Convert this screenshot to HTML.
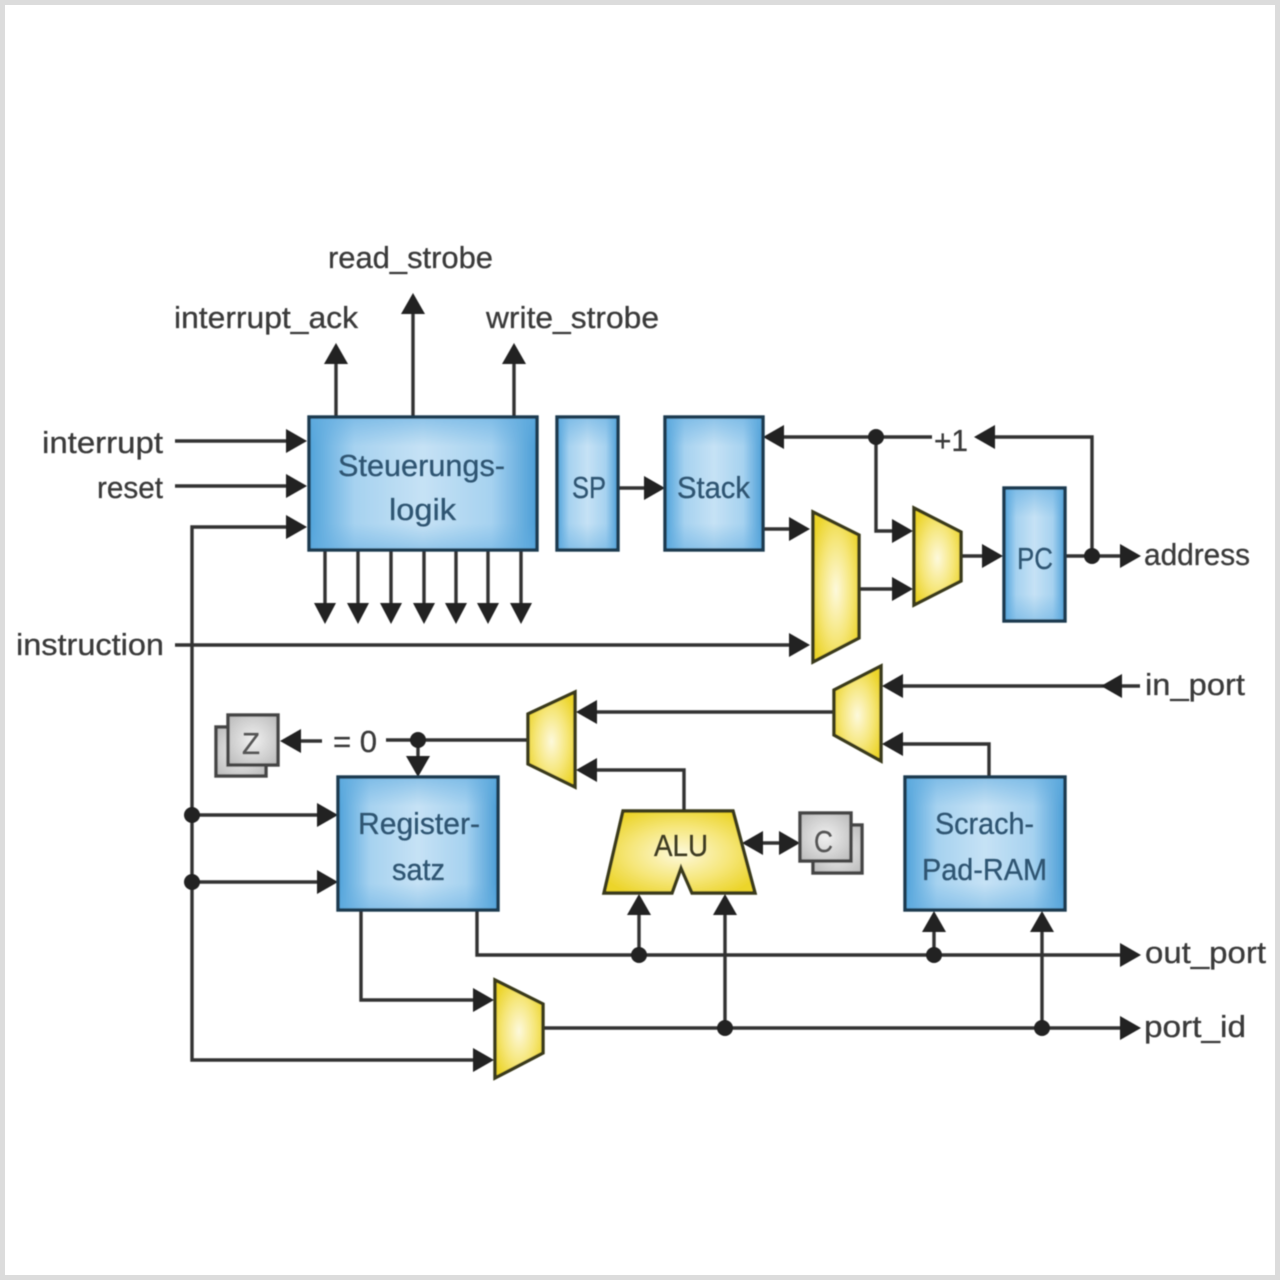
<!DOCTYPE html>
<html>
<head>
<meta charset="utf-8">
<style>
html,body{margin:0;padding:0;background:#fff;width:1280px;height:1280px;overflow:hidden}
svg{display:block}
text{font-family:"Liberation Sans",sans-serif;font-size:31px;fill:#3a3a3a;stroke:#3a3a3a;stroke-width:.3}
.b{fill:#2f5572;stroke:#2f5572}
.y{fill:#3c3a20;stroke:#3c3a20}
</style>
</head>
<body>
<svg width="1280" height="1280" viewBox="0 0 1280 1280" xmlns="http://www.w3.org/2000/svg">
<defs>
<linearGradient id="blueH" x1="0" y1="0" x2="1" y2="0">
<stop offset="0" stop-color="#4fa2da"/><stop offset="0.2" stop-color="#a6d2f0"/><stop offset="0.5" stop-color="#c6e2f5"/><stop offset="0.8" stop-color="#a6d2f0"/><stop offset="1" stop-color="#4a9dd6"/>
</linearGradient>
<linearGradient id="blueV" x1="0" y1="0" x2="0" y2="1">
<stop offset="0" stop-color="#63ade0" stop-opacity=".6"/><stop offset="0.22" stop-color="#63ade0" stop-opacity="0"/><stop offset="0.8" stop-color="#63ade0" stop-opacity="0"/><stop offset="1" stop-color="#63ade0" stop-opacity=".5"/>
</linearGradient>
<radialGradient id="yel" cx="50%" cy="52%" r="58%">
<stop offset="0" stop-color="#fdf9dc"/><stop offset="0.55" stop-color="#f6e77e"/><stop offset="1" stop-color="#ecd52c"/>
</radialGradient>
<radialGradient id="gry" cx="50%" cy="50%" r="65%">
<stop offset="0" stop-color="#f0f0f0"/><stop offset="1" stop-color="#bdbdbd"/>
</radialGradient>
<filter id="soft" x="-2%" y="-2%" width="104%" height="104%"><feGaussianBlur stdDeviation="0.6"/></filter>
</defs>
<rect x="2.5" y="2.5" width="1275" height="1275" fill="#fff" stroke="#dcdcdc" stroke-width="5"/>
<g filter="url(#soft)">
<g fill="none" stroke="#333" stroke-width="3.4">
<path d="M175 441H290M175 486H290M290 527H192V1060H476M175 645H792M192 815H320M192 882H320"/>
<path d="M336 417V362M413 417V312M514 417V362"/>
<path d="M325 550V606M358 550V606M391 550V606M424 550V606M456 550V606M488 550V606M521 550V606"/>
<path d="M618 488H646M763 529H792M859 589H895M961 556H985M1065 556H1123"/>
<path d="M782 437H932M876 437V531H895M1092 556V437H992"/>
<path d="M1140 686H900M989 777V744H900M834 712H595M684 810V770H595"/>
<path d="M528 740H386M418 740V757M322 741H300"/>
<path d="M760 843H782"/>
<path d="M477 910V955H1123M639 955V914M934 955V930"/>
<path d="M361 910V1000H476M543 1028H1123M725 1028V914M1042 1028V930"/>
</g>
<g fill="#222">
<path d="M307 441l-21-12v24zM307 486l-21-12v24zM307 527l-21-12v24zM338 815l-21-12v24zM338 882l-21-12v24z"/>
<path d="M336 343l-12 21h24zM413 293l-12 21h24zM514 343l-12 21h24z"/>
<path d="M325 624l-11-21h22zM358 624l-11-21h22zM391 624l-11-21h22zM424 624l-11-21h22zM456 624l-11-21h22zM488 624l-11-21h22zM521 624l-11-21h22z"/>
<path d="M665 488l-21-12v24zM810 529l-21-12v24zM810 645l-21-12v24zM913 531l-21-12v24zM913 589l-21-12v24zM1003 556l-21-12v24zM1141 556l-21-12v24z"/>
<path d="M763 437l21-12v24zM974 437l21-12v24z"/>
<path d="M1101 686l21-12v24zM882 686l21-12v24zM882 744l21-12v24zM576 712l21-12v24zM576 770l21-12v24z"/>
<path d="M280 741l21-12v24zM418 777l-12-21h24z"/>
<path d="M742 843l21-12v24zM800 843l-21-12v24z"/>
<path d="M639 894l-12 21h24zM725 894l-12 21h24zM934 911l-12 21h24zM1042 911l-12 21h24z"/>
<path d="M1141 955l-21-12v24zM1141 1028l-21-12v24zM494 1000l-21-12v24zM494 1060l-21-12v24z"/>
<circle cx="876" cy="437" r="8"/><circle cx="1092" cy="556" r="8"/><circle cx="418" cy="740" r="8"/>
<circle cx="192" cy="815" r="8"/><circle cx="192" cy="882" r="8"/><circle cx="639" cy="955" r="8"/>
<circle cx="934" cy="955" r="8"/><circle cx="725" cy="1028" r="8"/><circle cx="1042" cy="1028" r="8"/>
</g>
<g fill="url(#blueH)">
<rect x="309" y="417" width="228" height="133"/>
<rect x="557" y="417" width="61" height="133"/>
<rect x="665" y="417" width="98" height="133"/>
<rect x="1004" y="488" width="61" height="133"/>
<rect x="338" y="777" width="160" height="133"/>
<rect x="905" y="777" width="160" height="133"/>
</g>
<g fill="url(#blueV)">
<rect x="309" y="417" width="228" height="133"/>
<rect x="557" y="417" width="61" height="133"/>
<rect x="665" y="417" width="98" height="133"/>
<rect x="1004" y="488" width="61" height="133"/>
<rect x="338" y="777" width="160" height="133"/>
<rect x="905" y="777" width="160" height="133"/>
</g>
<g stroke="#1f3a50" stroke-width="3.4" fill="none">
<rect x="309" y="417" width="228" height="133"/>
<rect x="557" y="417" width="61" height="133"/>
<rect x="665" y="417" width="98" height="133"/>
<rect x="1004" y="488" width="61" height="133"/>
<rect x="338" y="777" width="160" height="133"/>
<rect x="905" y="777" width="160" height="133"/>
</g>
<g stroke="#3a3a1c" stroke-width="3.4" fill="url(#yel)" stroke-linejoin="miter">
<polygon points="813,512 859,535 859,638 813,662"/>
<polygon points="914,508 961,532 961,581 914,605"/>
<polygon points="881,666 834,690 834,735 881,761"/>
<polygon points="575,692 528,714 528,764 575,787"/>
<polygon points="495,980 543,1004 543,1053 495,1078"/>
<polygon points="623,811 733,811 755,893 692,893 681,868 672,893 604,893"/>
</g>
<g stroke="#444" stroke-width="3.4" fill="url(#gry)">
<rect x="813" y="825" width="49" height="48"/>
<rect x="800" y="813" width="51" height="48"/>
<rect x="216" y="727" width="50" height="49"/>
<rect x="228" y="715" width="50" height="50"/>
</g>
</g>
<g filter="url(#soft)">
<text x="42" y="453" textLength="121" lengthAdjust="spacingAndGlyphs">interrupt</text>
<text x="97" y="498" textLength="66" lengthAdjust="spacingAndGlyphs">reset</text>
<text x="16" y="655" textLength="148" lengthAdjust="spacingAndGlyphs">instruction</text>
<text x="328" y="268" textLength="165" lengthAdjust="spacingAndGlyphs">read_strobe</text>
<text x="174" y="328" textLength="184" lengthAdjust="spacingAndGlyphs">interrupt_ack</text>
<text x="486" y="328" textLength="173" lengthAdjust="spacingAndGlyphs">write_strobe</text>
<text x="1144" y="565" textLength="106" lengthAdjust="spacingAndGlyphs">address</text>
<text x="1145" y="695" textLength="100" lengthAdjust="spacingAndGlyphs">in_port</text>
<text x="1145" y="963" textLength="121" lengthAdjust="spacingAndGlyphs">out_port</text>
<text x="1144" y="1037" textLength="102" lengthAdjust="spacingAndGlyphs">port_id</text>
<text x="934" y="451" textLength="34" lengthAdjust="spacingAndGlyphs">+1</text>
<text x="333" y="752" textLength="44" lengthAdjust="spacingAndGlyphs">= 0</text>
<text class="b" x="338" y="476" textLength="167" lengthAdjust="spacingAndGlyphs">Steuerungs-</text>
<text class="b" x="389" y="520" textLength="67" lengthAdjust="spacingAndGlyphs">logik</text>
<text class="b" x="572" y="498" textLength="34" lengthAdjust="spacingAndGlyphs">SP</text>
<text class="b" x="677" y="498" textLength="73" lengthAdjust="spacingAndGlyphs">Stack</text>
<text class="b" x="1017" y="569" textLength="36" lengthAdjust="spacingAndGlyphs">PC</text>
<text class="b" x="358" y="834" textLength="122" lengthAdjust="spacingAndGlyphs">Register-</text>
<text class="b" x="392" y="880" textLength="53" lengthAdjust="spacingAndGlyphs">satz</text>
<text class="b" x="935" y="834" textLength="99" lengthAdjust="spacingAndGlyphs">Scrach-</text>
<text class="b" x="922" y="880" textLength="125" lengthAdjust="spacingAndGlyphs">Pad-RAM</text>
<text class="y" x="654" y="856" textLength="54" lengthAdjust="spacingAndGlyphs">ALU</text>
<text x="814" y="852" textLength="19" lengthAdjust="spacingAndGlyphs" style="fill:#555;stroke:#555">C</text>
<text x="242" y="754" textLength="18" lengthAdjust="spacingAndGlyphs" style="fill:#555;stroke:#555">Z</text>
</g>
</svg>
</body>
</html>
